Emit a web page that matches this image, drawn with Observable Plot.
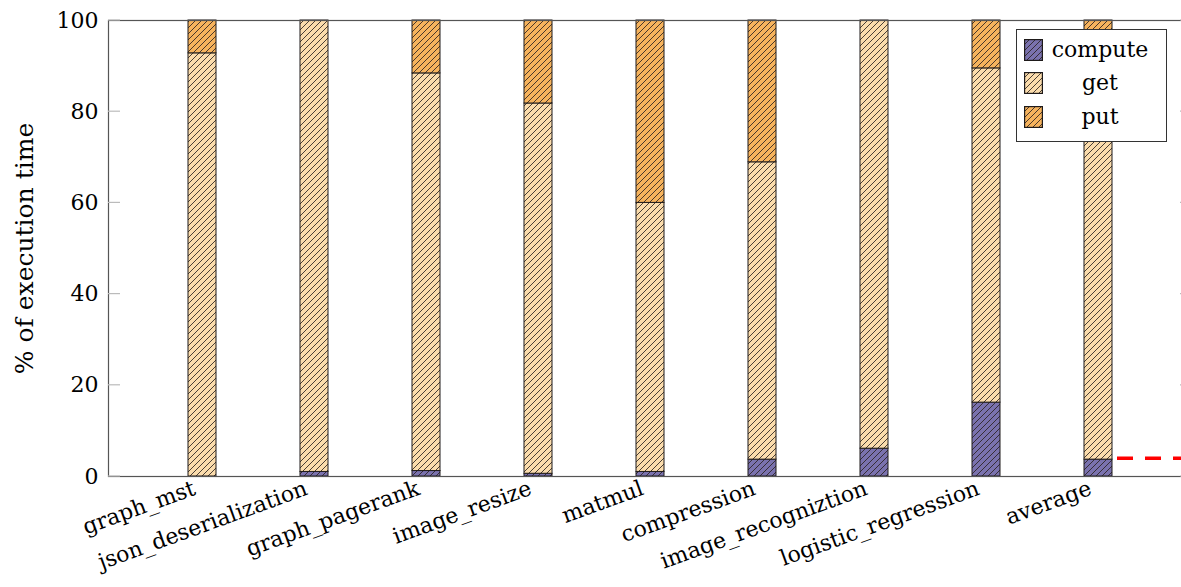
<!DOCTYPE html>
<html>
<head>
<meta charset="utf-8">
<script src="https://cdn.jsdelivr.net/npm/d3@7"></script>
<script src="https://cdn.jsdelivr.net/npm/@observablehq/plot@0.6"></script>
<style>
html, body { margin: 0; padding: 0; background: #fff; overflow: hidden; width: 1181px; height: 587px; }
#wrap { position: relative; width: 1181px; height: 587px; overflow: hidden; }
#wrap svg { max-width: none !important; display: block; }
#legend {
  position: absolute; left: 1016px; top: 29px; width: 151px; height: 113px;
  box-sizing: border-box; border: 1.3px solid #333; background: #fff;
  font-family: "DejaVu Serif", serif; font-size: 22px; color: #000;
  padding-top: 3px;
}
#legend .row { display: flex; align-items: center; height: 33.5px; }
#legend .row svg { margin-left: 7px; flex: none; }
#legend .row span { flex: none; width: 102px; margin-left: 6px; text-align: center; line-height: 1; }
</style>
</head>
<body>
<div id="wrap"></div>
<script>
const categories = ["graph_mst", "json_deserialization", "graph_pagerank", "image_resize", "matmul", "compression", "image_recogniztion", "logistic_regression", "average"];
const compute = [0, 1.0, 1.2, 0.6, 1.0, 3.7, 6.1, 16.2, 3.7];
const get =     [92.8, 99.0, 87.2, 81.2, 59.0, 65.2, 93.9, 73.3, 81.5];
const put =     [7.2, 0, 11.6, 18.2, 40.0, 31.1, 0, 10.5, 14.8];
const seriesNames = ["compute", "get", "put"];
const seriesColors = ["#7a72ae", "#fbdcac", "#f6b35d"];
const yTicks = [0, 20, 40, 60, 80, 100];
const yTitle = "% of execution time";
const redLineValue = 3.9;

const seriesValues = {compute, get, put};
const rows = [];
categories.forEach((c, i) => {
  seriesNames.forEach(s => {
    const v = seriesValues[s][i];
    if (v > 0) rows.push({category: c, series: s, value: v});
  });
});

const ns = "http://www.w3.org/2000/svg";
function makePatterns() {
  const defs = document.createElementNS(ns, "defs");
  seriesNames.forEach((s, i) => {
    const p = document.createElementNS(ns, "pattern");
    p.setAttribute("id", "hatch-" + s);
    p.setAttribute("patternUnits", "userSpaceOnUse");
    p.setAttribute("width", 6);
    p.setAttribute("height", 6);
    const r = document.createElementNS(ns, "rect");
    r.setAttribute("width", 6); r.setAttribute("height", 6);
    r.setAttribute("fill", seriesColors[i]);
    const path = document.createElementNS(ns, "path");
    path.setAttribute("d", "M-1,1 L1,-1 M0,6 L6,0 M5,7 L7,5");
    path.setAttribute("stroke", "#2a2220");
    path.setAttribute("stroke-width", "0.85");
    p.appendChild(r); p.appendChild(path);
    defs.appendChild(p);
  });
  return defs;
}

// inward frame ticks (left and right) and the red dashed reference line, drawn through Plot's scales
function decorations(index, scales, values, dimensions) {
  const sx = scales.x, sy = scales.y;
  const {width, marginLeft, marginRight} = dimensions;
  const left = marginLeft, right = width - marginRight;
  const g = d3.create("svg:g");
  for (const t of yTicks) {
    const y = sy(t);
    g.append("line").attr("x1", left).attr("x2", left + 12).attr("y1", y).attr("y2", y)
      .attr("stroke", "#bbb").attr("stroke-width", 1.2);
    g.append("line").attr("x1", right - 12).attr("x2", right).attr("y1", y).attr("y2", y)
      .attr("stroke", "#bbb").attr("stroke-width", 1.2);
  }
  const last = categories[categories.length - 1];
  const xStart = sx(last) + sx.bandwidth() + 5;
  const yr = sy(redLineValue);
  g.append("line").attr("x1", xStart).attr("x2", right).attr("y1", yr).attr("y2", yr)
    .attr("stroke", "#ff0000").attr("stroke-width", 3.5).attr("stroke-dasharray", "16,12");
  return g.node();
}

const chart = Plot.plot({
  width: 1181,
  height: 587,
  marginLeft: 108,
  marginRight: -11,
  marginTop: 20,
  marginBottom: 111,
  style: {fontFamily: "'DejaVu Serif', serif", fontSize: "22px", color: "#000", background: "transparent"},
  x: {domain: categories, paddingInner: 0.75, paddingOuter: 0.69, label: null},
  y: {domain: [0, 100], label: null},
  color: {type: "identity"},
  marks: [
    Plot.barY(rows, {x: "category", y: "value", z: "series", fill: d => `url(#hatch-${d.series})`, stroke: "#1e1a1a", strokeWidth: 1}),
    Plot.axisY(yTicks, {anchor: "left", tickSize: 0, tickPadding: 10, label: null, fontSize: 22}),
    Plot.axisY(yTicks, {anchor: "left", tickSize: 0, tickFormat: () => "", label: yTitle, labelAnchor: "center", labelOffset: 93, labelArrow: "none", fontSize: 25}),
    Plot.axisX({tickSize: 0, tickPadding: 11, tickRotate: -20, dx: -8, label: null, fontSize: 22}),
    Plot.frame({stroke: "#555", strokeWidth: 1.2}),
    decorations
  ]
});

chart.insertBefore(makePatterns(), chart.firstChild);
const wrap = document.getElementById("wrap");
wrap.appendChild(chart);

const legend = document.createElement("div");
legend.id = "legend";
seriesNames.forEach(s => {
  const row = document.createElement("div");
  row.className = "row";
  row.innerHTML = `<svg width="19" height="22" xmlns="${ns}"><rect x="0.6" y="0.6" width="17.8" height="20.8" fill="url(#hatch-${s})" stroke="#1e1a1a" stroke-width="1.2"/></svg><span>${s}</span>`;
  legend.appendChild(row);
});
wrap.appendChild(legend);
</script>
</body>
</html>
